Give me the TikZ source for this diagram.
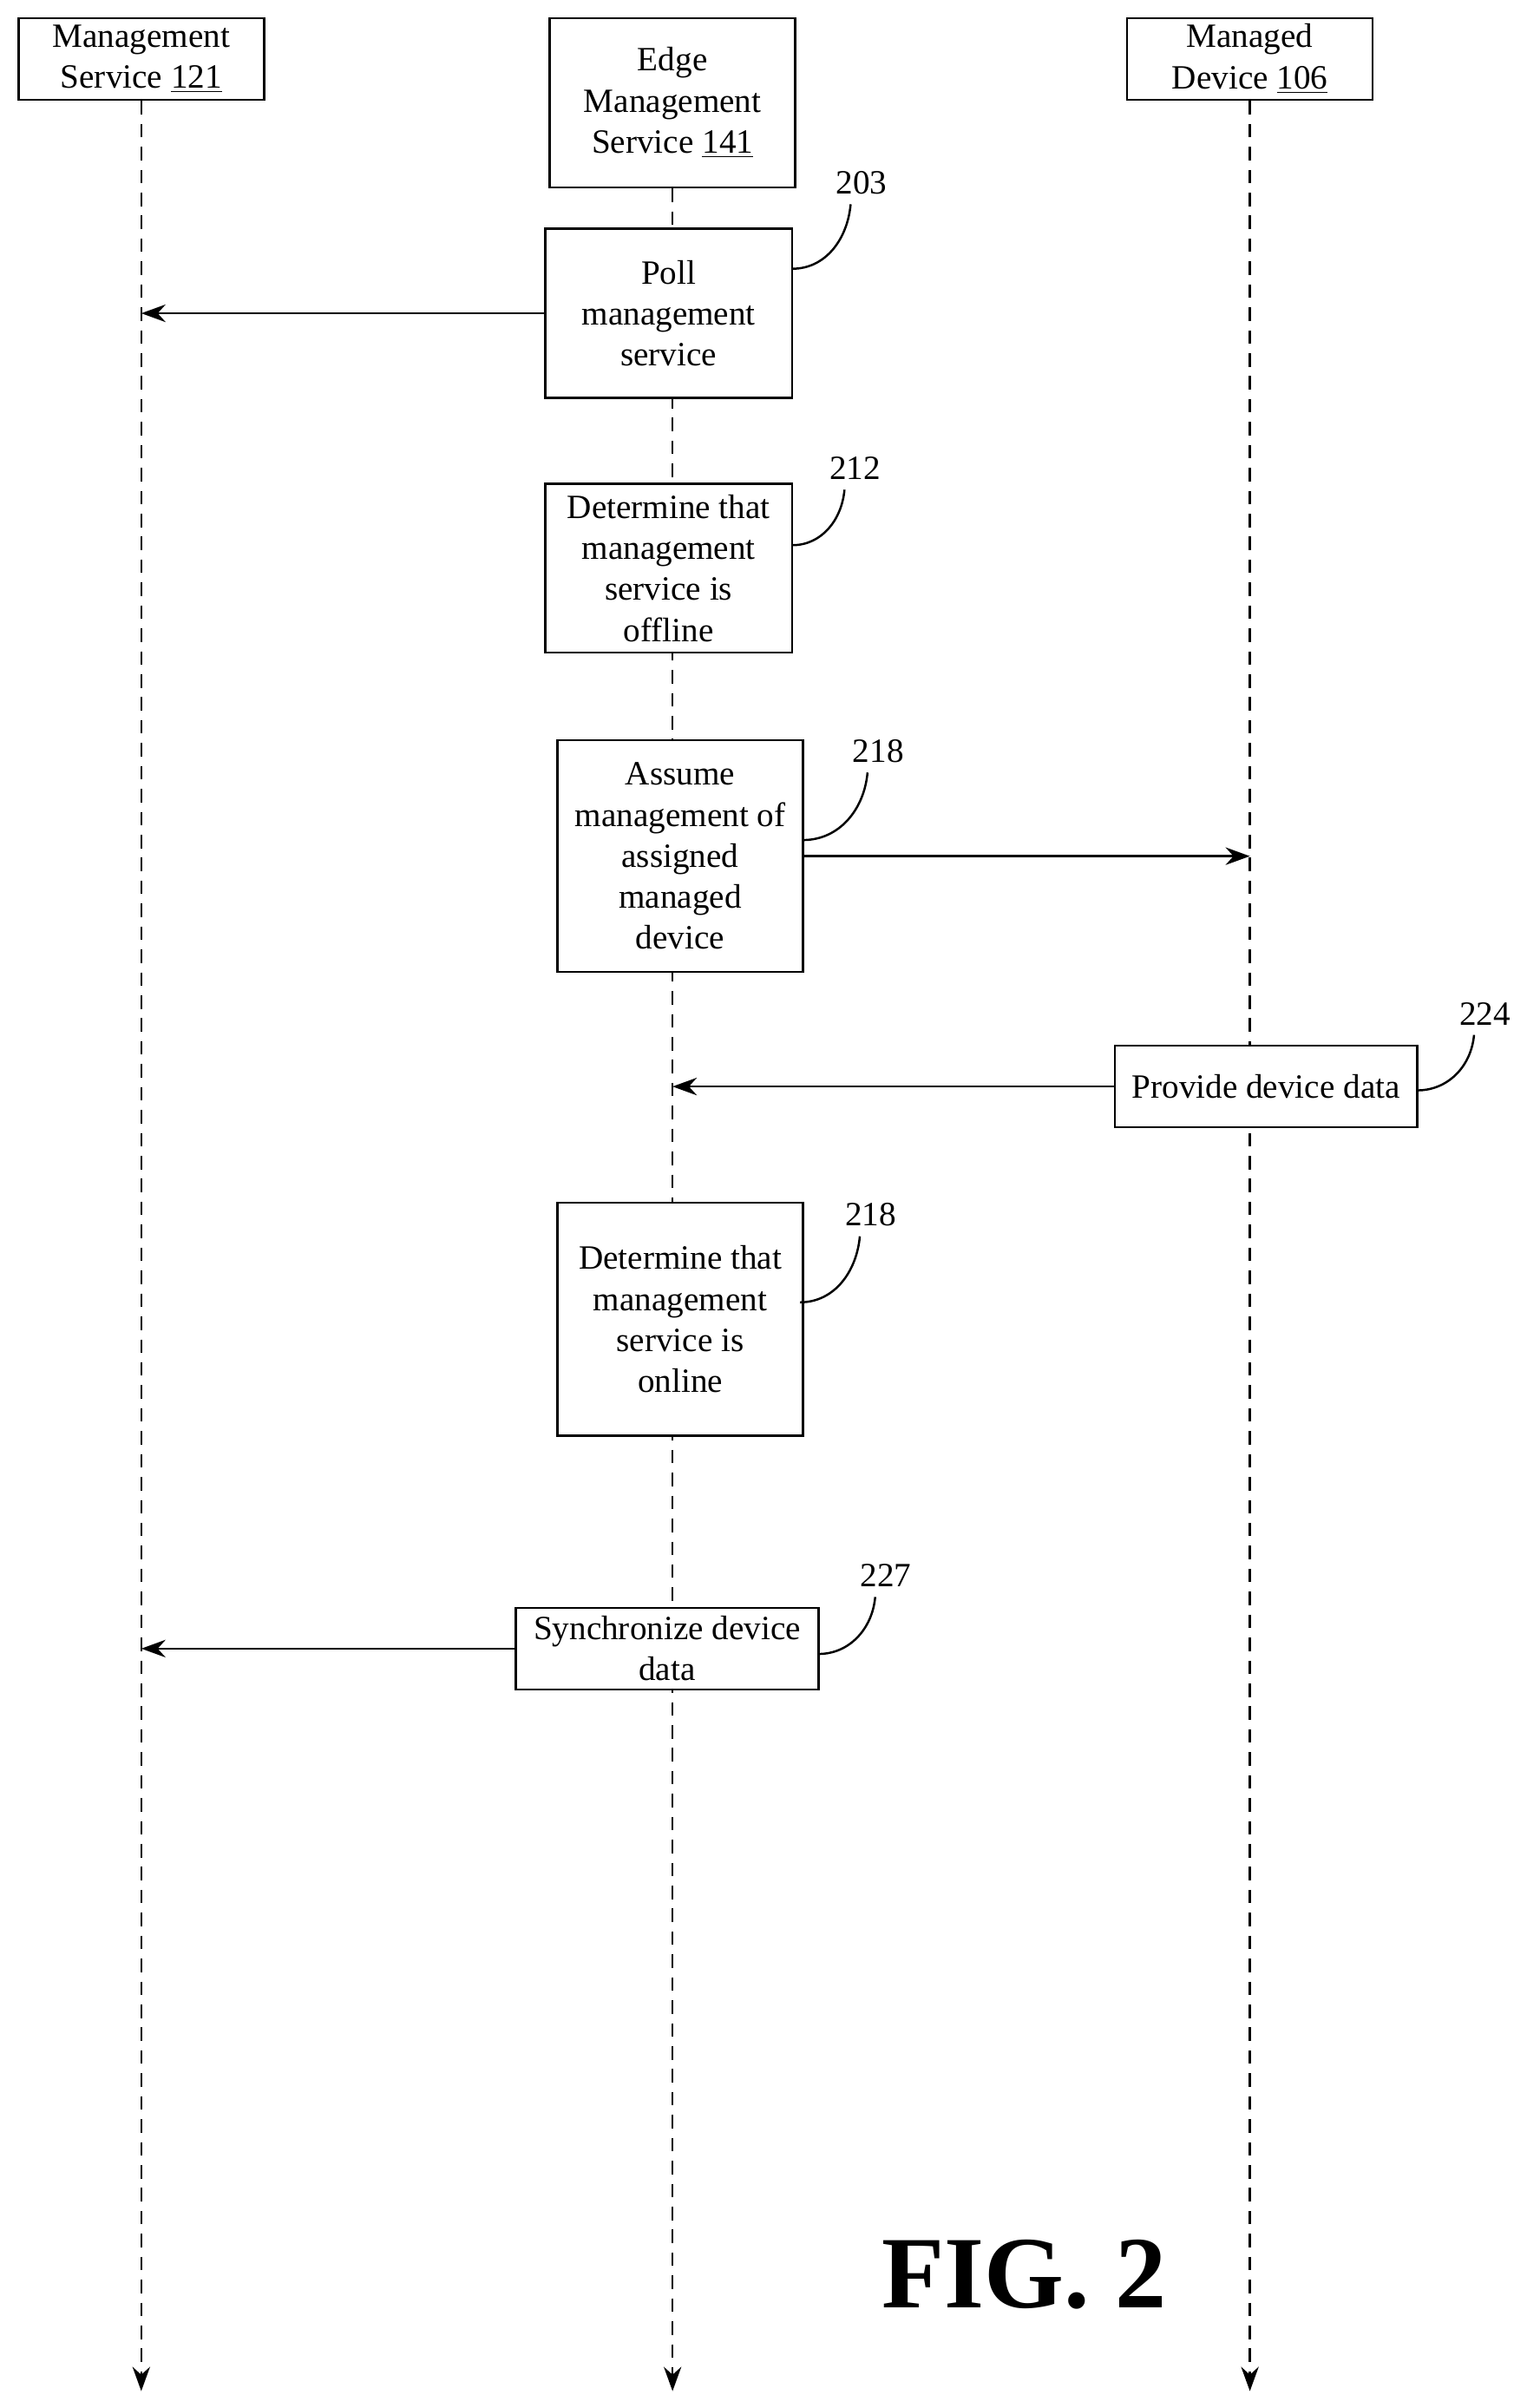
\documentclass[tikz,border=0pt]{standalone}
\usepackage{fontspec}
\setmainfont{Liberation Serif}
\usetikzlibrary{arrows.meta}
\tikzset{
  box/.style={draw,fill=white,align=center,inner sep=2pt,font=\fontsize{12.6}{15.2}\selectfont},
  life/.style={dash pattern=on 5pt off 3.5pt,-{Stealth[length=9pt,width=6.5pt]}},
  msg/.style={-{Stealth[length=9pt,width=6.5pt]}},
  num/.style={font=\fontsize{12.6}{14}\selectfont},
}
\begin{document}
\begin{tikzpicture}[x=0.02cm,y=-0.02cm,line width=0.8pt]
\useasboundingbox (0,0) rectangle (994,1568);
% lifelines
\coordinate (msEnd) at (92,1557);
\coordinate (emEnd) at (438,1557);
\coordinate (mdEnd) at (814,1557);
\node[box,minimum width=3.2cm,minimum height=1.06cm] (ms) at (92,38.5) {Management\\Service \underline{121}};
\node[box,minimum width=3.2cm,minimum height=2.2cm] (em) at (438,67) {Edge\\Management\\Service \underline{141}};
\node[box,minimum width=3.2cm,minimum height=1.06cm] (md) at (814,38.5) {Managed\\Device \underline{106}};
\draw[life] (ms) -- (msEnd);
\draw[life] (em) -- (emEnd);
\draw[life] (md) -- (mdEnd);
\coordinate (msL) at (92,0);
\coordinate (emL) at (438,0);
\coordinate (mdL) at (814,0);
% steps
\node[box,minimum width=3.22cm,minimum height=2.2cm] (s203) at (435.5,204) {Poll\\management\\service};
\node[box,minimum width=3.22cm,minimum height=2.2cm] (s212) at (435.5,370) {Determine that\\management\\service is\\offline};
\node[box,minimum width=3.2cm,minimum height=3.02cm] (s218) at (443,557.5) {Assume\\management of\\assigned\\managed\\device};
\node[box,minimum width=3.94cm,minimum height=1.06cm] (s224) at (824.5,707.5) {Provide device data};
\node[box,minimum width=3.2cm,minimum height=3.04cm] (s218b) at (443,859) {Determine that\\management\\service is\\online};
\node[box,minimum width=3.94cm,minimum height=1.06cm] (s227) at (434.5,1073.5) {Synchronize device\\data};
% messages
\draw[msg] (s203.west) -- (s203.west -| msL);
\draw[msg] (s218.east) -- (s218.east -| mdL);
\draw[msg] (s224.west) -- (s224.west -| emL);
\draw[msg] (s227.west) -- (s227.west -| msL);
% reference numerals
\node[num] (l203) at (561,119) {203};
\node[num] (l212) at (557,305) {212};
\node[num] (l218) at (572,489) {218};
\node[num] (l224) at (967,660) {224};
\node[num] (l218b) at (567,791) {218};
\node[num] (l227) at (577,1026) {227};
\coordinate (c203) at (516,175);
\coordinate (c212) at (516,355);
\coordinate (c218) at (523,547);
\coordinate (c224) at (923,710);
\coordinate (c218b) at (521,848);
\coordinate (c227) at (533,1077);
\foreach \n in {203,212,218,224,218b,227}
  \draw (c\n) to[out=0,in=-95] ([xshift=-4pt]l\n.south);
\node[font=\bfseries\fontsize{38}{44}\selectfont] (fig) at (667,1481) {FIG. 2};
\end{tikzpicture}
\end{document}
